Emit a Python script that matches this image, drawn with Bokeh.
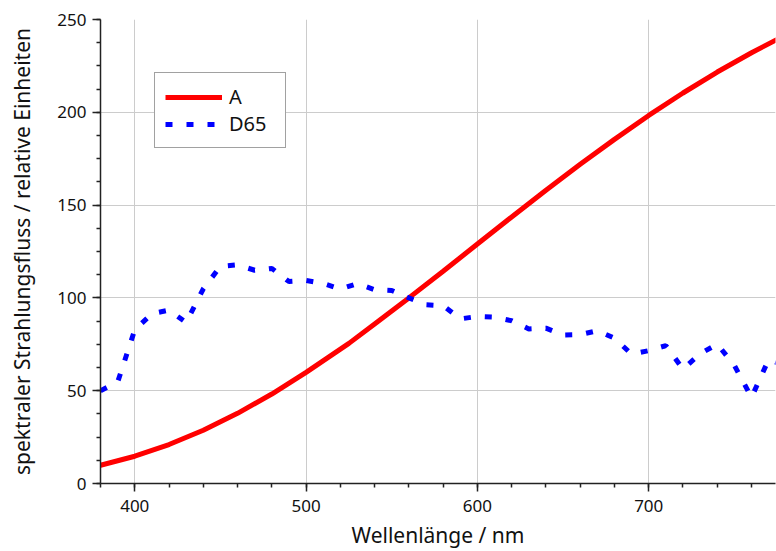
from bokeh.plotting import figure
from bokeh.models import Range1d, Legend, LegendItem, FixedTicker
from bokeh.embed import file_html
from bokeh.resources import INLINE

# Illuminant A (relative spectral power)
a_wl = [380, 400, 420, 440, 460, 480, 500, 525, 540, 560, 580, 600, 620, 640,
        660, 680, 700, 720, 740, 760, 780]
a_val = [9.8, 14.7, 21.0, 28.7, 37.8, 48.2, 59.9, 75.5, 86.0, 100.0, 114.4, 129.0,
         143.6, 158.0, 172.0, 185.4, 198.3, 210.4, 221.7, 232.1, 241.7]

# Illuminant D65 (relative spectral power)
d_wl = [380, 390, 400, 410, 420, 430, 440, 450, 460, 470, 480, 490, 500, 510,
        520, 530, 540, 550, 560, 570, 580, 590, 600, 610, 620, 630, 640, 650,
        660, 670, 680, 690, 700, 710, 720, 730, 740, 750, 760, 770, 780]
d_val = [50.0, 54.6, 82.8, 91.5, 93.4, 86.7, 104.9, 117.0, 117.8, 114.9, 115.9,
         108.8, 109.4, 107.8, 104.8, 107.7, 104.4, 104.0, 100.0, 96.3, 95.8, 88.7,
         90.0, 89.6, 87.7, 83.3, 83.7, 80.0, 80.2, 82.3, 78.3, 69.7, 71.6, 74.3,
         61.6, 69.9, 75.1, 63.6, 46.4, 66.8, 63.4]

x_ticks = [400, 500, 600, 700]
y_ticks = [0, 50, 100, 150, 200, 250]

FONT = "Noto Sans"

p = figure(width=776, height=551, output_backend="svg", toolbar_location=None,
           x_range=Range1d(380, 774), y_range=Range1d(0, 250),
           min_border_left=100, min_border_right=1, min_border_top=19,
           min_border_bottom=68)
p.outline_line_color = None
p.background_fill_color = "white"

ra = p.line(a_wl, a_val, line_color="#ff0000", line_width=5)
rd = p.line(d_wl, d_val, line_color="#0000ff", line_width=5, line_dash="7 14")

for ax in (p.xaxis[0], p.yaxis[0]):
    ax.axis_line_color = "#222222"
    ax.axis_line_width = 1.5
    ax.major_tick_line_color = "#222222"
    ax.major_tick_line_width = 1.5
    ax.minor_tick_line_color = "#222222"
    ax.minor_tick_line_width = 1.5
    ax.major_tick_in = 0
    ax.major_tick_out = 8
    ax.minor_tick_in = 0
    ax.minor_tick_out = 4
    ax.major_label_text_font = FONT
    ax.major_label_text_font_size = "17px"
    ax.major_label_text_color = "#111111"
    ax.major_label_standoff = 6
    ax.axis_label_text_font = FONT
    ax.axis_label_text_font_size = "21px"
    ax.axis_label_text_font_style = "normal"
    ax.axis_label_text_color = "#111111"

p.xaxis.ticker = FixedTicker(ticks=x_ticks, minor_ticks=list(range(380, 781, 20)))
p.yaxis.ticker = FixedTicker(ticks=y_ticks, minor_ticks=[i * 12.5 for i in range(21)])
p.xaxis.axis_label = "Wellenlänge / nm"
p.yaxis.axis_label = "spektraler Strahlungsfluss / relative Einheiten"
p.xaxis.major_label_standoff = 8
p.xaxis.axis_label_standoff = 6
p.yaxis.axis_label_standoff = 18

p.grid.grid_line_color = "#cccccc"
p.grid.grid_line_width = 1

legend = Legend(items=[LegendItem(label="A", renderers=[ra]),
                       LegendItem(label="D65", renderers=[rd])],
                location=(54, 335))
legend.border_line_color = "#444444"
legend.border_line_width = 1
legend.background_fill_alpha = 1
legend.glyph_width = 57
legend.glyph_height = 20
legend.label_height = 20
legend.label_width = 46
legend.spacing = 0
legend.padding = 10
legend.margin = 0
legend.label_standoff = 7
legend.label_text_font = FONT
legend.label_text_font_size = "20px"
legend.label_text_color = "#111111"
p.add_layout(legend, "center")

open("out.html", "w").write(file_html(p, INLINE))
